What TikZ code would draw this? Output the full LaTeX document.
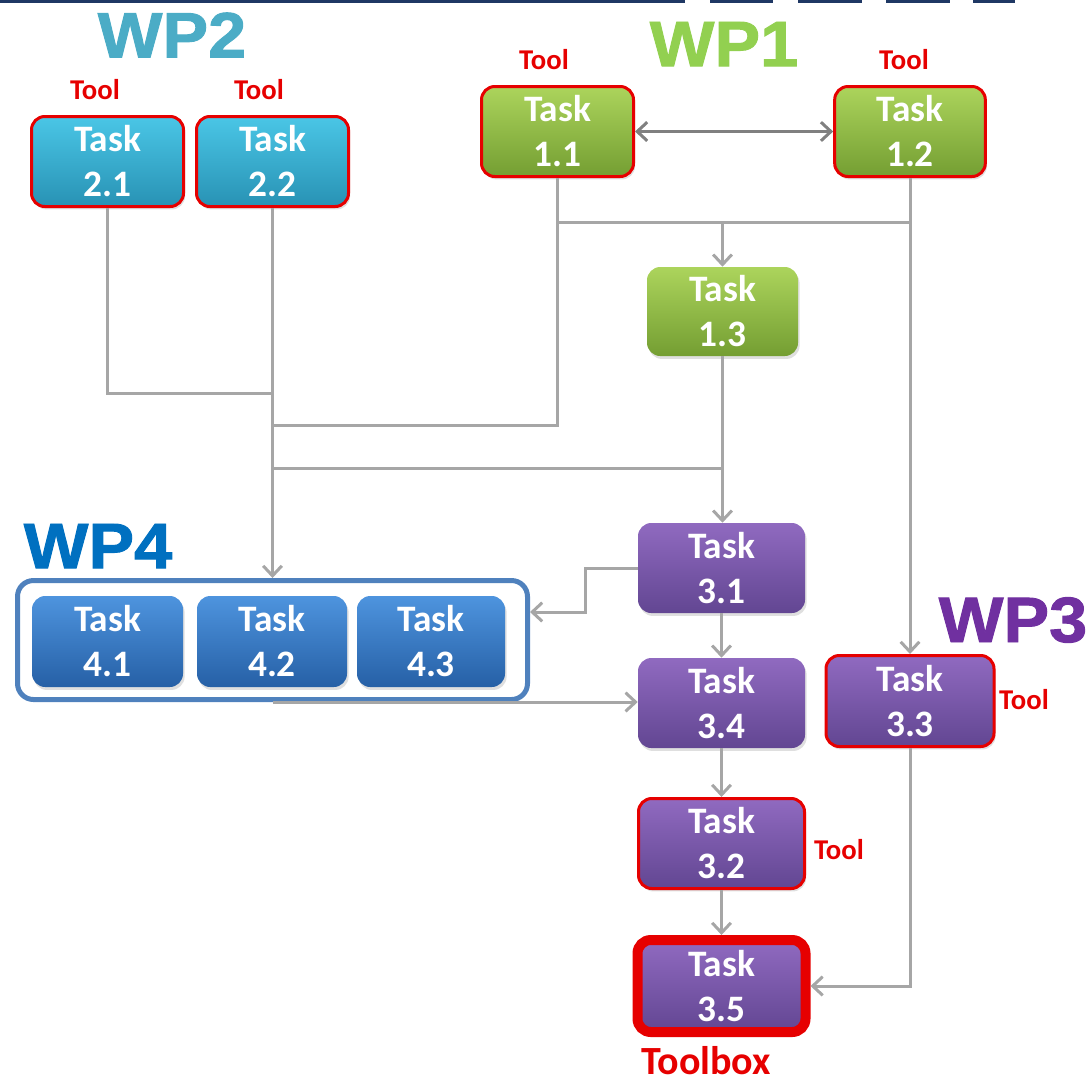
\documentclass[tikz,border=0pt]{standalone}
\usepackage{fontspec}
\setmainfont{Carlito}
\newfontfamily\wpfont{Liberation Sans Bold}[FakeBold=1.5,FakeStretch=1.07]
\usetikzlibrary{arrows.meta,shadows}
\definecolor{cyanT}{RGB}{74,198,230}
\definecolor{cyanB}{RGB}{40,146,180}
\definecolor{greenT}{RGB}{172,212,92}
\definecolor{greenB}{RGB}{116,158,50}
\definecolor{purpleT}{RGB}{144,106,192}
\definecolor{purpleB}{RGB}{98,70,146}
\definecolor{blueT}{RGB}{78,148,222}
\definecolor{blueB}{RGB}{38,96,166}
\definecolor{toolred}{RGB}{230,0,0}
\definecolor{lgray}{RGB}{166,166,166}
\definecolor{dgray}{RGB}{128,128,128}
\definecolor{navy}{RGB}{31,56,100}
\definecolor{wpcyan}{RGB}{75,172,198}
\definecolor{wpgreen}{RGB}{146,208,80}
\definecolor{wpblue}{RGB}{0,112,192}
\definecolor{wppurple}{RGB}{112,48,160}
\definecolor{frameblue}{RGB}{79,129,189}
\begin{document}
\begin{tikzpicture}[x=0.75pt,y=-0.75pt,
  task/.style={rounded corners=10pt, inner sep=0pt, align=center, text=white,
    font=\fontsize{28}{33.75}\selectfont\bfseries,
    drop shadow={shadow xshift=1.2pt,shadow yshift=-2.2pt,opacity=0.25}},
  cyanbox/.style={top color=cyanT, bottom color=cyanB},
  greenbox/.style={top color=greenT, bottom color=greenB},
  purplebox/.style={top color=purpleT, bottom color=purpleB},
  bluebox/.style={top color=blueT, bottom color=blueB},
  toolb/.style={draw=toolred, line width=2.25pt},
  toollbl/.style={text=toolred, inner sep=0pt, font=\fontsize{21.5}{24}\selectfont\bfseries},
  wplbl/.style={inner sep=0pt, font=\fontsize{48}{54}\wpfont},
  line/.style={draw=lgray, line width=2.25pt},
  arr/.style={line, -{Straight Barb[length=7.5pt,width=14pt]}},
  darr/.style={draw=dgray, line width=2.25pt, {Straight Barb[length=7.5pt,width=14pt]}-{Straight Barb[length=7.5pt,width=14pt]}}
]
\useasboundingbox (0,0) rectangle (1092,1083);

% top bar
\begin{scope}[drop shadow={shadow xshift=0.5pt,shadow yshift=-2pt,opacity=0.3}]
\fill[navy] (0,0) rectangle (685,3);
\fill[navy] (710,0) rectangle (773,3);
\fill[navy] (798,0) rectangle (862,3);
\fill[navy] (886,0) rectangle (950,3);
\fill[navy] (973,0) rectangle (1015,3);
\end{scope}

% WP labels
\node[wplbl, text=wpcyan] (wp2) at (172,35) {WP2};
\node[wplbl, text=wpgreen] (wp1) at (724,44) {WP1};
\node[wplbl, text=wpblue] (wp4l) at (98,546) {WP4};
\node[wplbl, text=wppurple] (wp3) at (1013,620) {WP3};

% WP4 frame
\node[draw=frameblue, line width=3.75pt, rounded corners=12pt, fill=white,
      minimum width=382.5pt, minimum height=89.25pt, inner sep=0pt] (wp4) at (272.5,640) {};

% tasks
\node[task, cyanbox, toolb, minimum width=114pt, minimum height=67.5pt] (t21) at (107.5,161.5) {Task\\2.1};
\node[task, cyanbox, toolb, minimum width=114pt, minimum height=67.5pt] (t22) at (272.5,161.5) {Task\\2.2};
\node[task, greenbox, toolb, minimum width=114pt, minimum height=67.5pt] (t11) at (557.5,131.5) {Task\\1.1};
\node[task, greenbox, toolb, minimum width=113pt, minimum height=67.5pt] (t12) at (910,131.5) {Task\\1.2};
\node[task, greenbox, minimum width=113.25pt, minimum height=66.75pt] (t13) at (722.5,311.5) {Task\\1.3};
\node[task, purplebox, minimum width=125.25pt, minimum height=67.5pt] (t31) at (721.5,568) {Task\\3.1};
\node[task, purplebox, minimum width=125.25pt, minimum height=67.5pt] (t34) at (721.5,703) {Task\\3.4};
\node[task, purplebox, toolb, minimum width=126pt, minimum height=68.25pt] (t33) at (910,701) {Task\\3.3};
\node[task, purplebox, toolb, minimum width=124.5pt, minimum height=67.5pt] (t32) at (721.5,843.5) {Task\\3.2};
\node[task, purplebox, draw=toolred, line width=7.5pt, minimum width=126pt, minimum height=69pt] (t35) at (721.5,986) {Task\\3.5};
\node[task, bluebox, minimum width=113.25pt, minimum height=68.25pt] (t41) at (107.5,641.5) {Task\\4.1};
\node[task, bluebox, minimum width=112.5pt, minimum height=68.25pt] (t42) at (272,641.5) {Task\\4.2};
\node[task, bluebox, minimum width=111pt, minimum height=68.25pt] (t43) at (431,641.5) {Task\\4.3};

% tool labels
\node[toollbl] (l21) at (95,90) {Tool};
\node[toollbl] (l22) at (259,90) {Tool};
\node[toollbl] (l11) at (544,60) {Tool};
\node[toollbl] (l12) at (904,60) {Tool};
\node[toollbl] (l33) at (1024,700) {Tool};
\node[toollbl] (l32) at (839,850) {Tool};
\node[text=toolred, inner sep=0pt, font=\fontsize{30}{36}\selectfont\bfseries] (tb) at (706,1061) {Toolbox};

% junction coordinates
\coordinate (jy) at (0,222);
\coordinate (c393) at (272.5,393);
\coordinate (c425) at (272.5,425);
\coordinate (c468) at (272.5,468);
\coordinate (bend) at (585,612);

% connectors
\draw[darr] (t11.east) -- (t12.west);
\draw[line] (t11.south |- jy) -- (t12.south |- jy);
\draw[line] (t11.south) |- (c425);
\draw[arr] (t13.north |- jy) -- (t13.north);
\draw[arr] (t12.south) -- (t12.south |- t33.north);
\draw[line] (t21.south) |- (c393);
\draw[arr] (t22.south) -- (t22.south |- wp4.north);
\draw[line] (t13.south) |- (c468);
\draw[arr] (t13.south) -- (t13.south |- t31.north);
\draw[arr] (t31.west) -| (bend) -- (bend -| wp4.east);
\draw[arr] (wp4.south) -- (wp4.south -| t34.west);
\draw[arr] (t31.south) -- (t34.north);
\draw[arr] (t34.south) -- (t32.north);
\draw[arr] (t32.south) -- (t35.north);
\draw[arr] (t33.south) |- (t35.east);
\end{tikzpicture}
\end{document}
